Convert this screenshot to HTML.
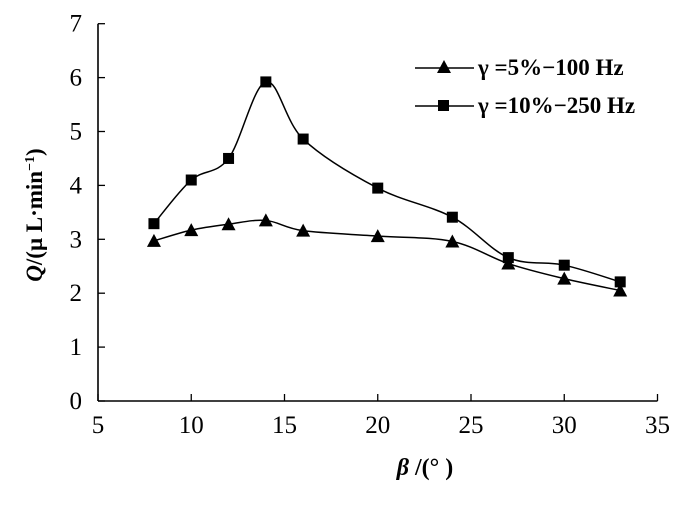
<!DOCTYPE html>
<html><head><meta charset="utf-8"><style>
body{margin:0;background:#fff}
svg text{font-family:"Liberation Serif",serif;fill:#000}
</style></head><body>
<svg width="700" height="501" xmlns="http://www.w3.org/2000/svg">
<g id="axes"></g>
<g id="series"></g>
<text x="42" y="215" font-size="23" font-weight="bold" text-anchor="middle" transform="rotate(-90 42 215)"><tspan font-style="italic">Q</tspan>/(μ L·min<tspan font-size="14" dy="-8">−1</tspan><tspan dy="8">)</tspan></text>
<text x="425" y="475" font-size="24" font-weight="bold" text-anchor="middle"><tspan font-style="italic">β</tspan> /(° )</text>
<g>
<line x1="415" y1="68" x2="474" y2="68" stroke="#000" stroke-width="1.5"/>
<polygon points="444,60 451,73 437,73" fill="#000"/>
<text x="478" y="75" font-size="23" font-weight="bold">γ =5%−100 Hz</text>
<line x1="415" y1="106" x2="474" y2="106" stroke="#000" stroke-width="1.5"/>
<rect x="438" y="100" width="11" height="11" fill="#000"/>
<text x="478" y="113" font-size="23" font-weight="bold">γ =10%−250 Hz</text>
</g>
</svg>
<script>
const xValues=[8,10,12,14,16,20,24,27,30,33];
const seriesTri=[2.97,3.17,3.28,3.35,3.16,3.06,2.96,2.55,2.27,2.05];
const seriesSq=[3.29,4.1,4.5,5.92,4.86,3.95,3.41,2.66,2.52,2.21];
const xTicks=[5,10,15,20,25,30,35];
const yTicks=[0,1,2,3,4,5,6,7];
const NS="http://www.w3.org/2000/svg";
const X=v=>98+(v-5)*18.65;
const Y=v=>401-v*53.9;
function mk(t,a,p){const e=document.createElementNS(NS,t);for(const k in a)e.setAttribute(k,a[k]);p.appendChild(e);return e;}
const ax=document.getElementById('axes');
const xa=mk('line',{x1:X(5),y1:Y(0),x2:X(35),y2:Y(0),stroke:'#000','stroke-width':1.6},ax);


const ya=mk('line',{x1:X(5),y1:Y(0),x2:X(5),y2:Y(7),stroke:'#000','stroke-width':1.6},ax);


xTicks.forEach(v=>{
 mk('line',{x1:X(v),y1:Y(0),x2:X(v),y2:Y(0)-7,stroke:'#000','stroke-width':1.3},ax);
 const t=mk('text',{x:X(v),y:Y(0)+32,'font-size':25,'text-anchor':'middle'},ax);t.textContent=v;
 
 
});
yTicks.forEach(v=>{
 mk('line',{x1:X(5),y1:Y(v),x2:X(5)+7,y2:Y(v),stroke:'#000','stroke-width':1.3},ax);
 const t=mk('text',{x:X(5)-16,y:Y(v)+8,'font-size':25,'text-anchor':'end'},ax);t.textContent=v;
 
 
});
function smooth(pts){let d=`M${pts[0][0]},${pts[0][1]}`;
 for(let i=0;i<pts.length-1;i++){const p0=pts[i-1]||pts[i],p1=pts[i],p2=pts[i+1],p3=pts[i+2]||p2;
  const c1=[p1[0]+(p2[0]-p0[0])/6,p1[1]+(p2[1]-p0[1])/6],c2=[p2[0]-(p3[0]-p1[0])/6,p2[1]-(p3[1]-p1[1])/6];
  d+=` C${c1[0]},${c1[1]} ${c2[0]},${c2[1]} ${p2[0]},${p2[1]}`;}return d;}
const sg=document.getElementById('series');
[[seriesTri,'tri'],[seriesSq,'sq']].forEach(([s,k])=>{
 const pts=xValues.map((x,i)=>[X(x),Y(s[i])]);
 const p=mk('path',{d:smooth(pts),fill:'none',stroke:'#000','stroke-width':1.5},sg);
 
 
 pts.forEach(([x,y])=>{let m;
  if(k==='tri')m=mk('polygon',{points:`${x},${y-7} ${x+7},${y+6} ${x-7},${y+6}`,fill:'#000'},sg);
  else m=mk('rect',{x:x-5.5,y:y-5.5,width:11,height:11,fill:'#000'},sg);
  
  
 });
});
</script>
</body></html>
